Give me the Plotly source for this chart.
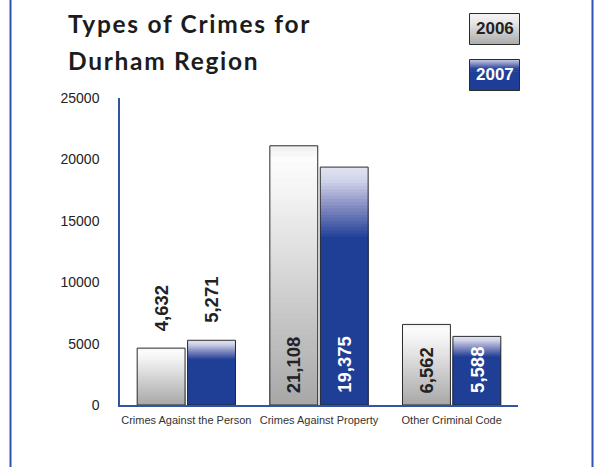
import plotly.graph_objects as go

# ---------------- data ----------------
categories = ["Crimes Against the Person", "Crimes Against Property", "Other Criminal Code"]
years = ["2006", "2007"]
values_2006 = [4632, 21108, 6562]
values_2007 = [5271, 19375, 5588]
label_outside = [True, False, False]
y_ticks = [0, 5000, 10000, 15000, 20000, 25000]
title_lines = ["Types of Crimes for", "Durham Region"]

# ---------------- layout geometry (pixels) ----------------
W, H = 596, 467
L, R, T, B = 120, 518, 98, 405
PW, PH = R - L, B - T


def px(x):
    return (x - L) / PW


def py(y):
    return (B - y) / PH


def hex2rgb(h):
    h = h.lstrip("#")
    return [int(h[i:i + 2], 16) for i in (0, 2, 4)]


def interp(stops, t):
    for (t0, c0), (t1, c1) in zip(stops, stops[1:]):
        if t0 <= t <= t1:
            a = 0 if t1 == t0 else (t - t0) / (t1 - t0)
            r0, r1 = hex2rgb(c0), hex2rgb(c1)
            return "rgb(%d,%d,%d)" % tuple(round(r0[i] + (r1[i] - r0[i]) * a) for i in range(3))
    return stops[-1][1]


gray_stops = [(0, "#efefef"), (0.05, "#fcfcfc"), (0.2, "#f2f2f2"), (1.0, "#a7a7a7")]
blue_stops = [(0, "#e2e4f1"), (0.06, "#cfd3e9"), (0.16, "#8890c3"), (0.3, "#1f3e96"), (1.0, "#1f3e96")]
BLUE = "#1f3e96"
OUTLINE = "#2b2b2b"

fig = go.Figure()


def add_gradient_bars(vals, group, stops, grad_span, n):
    # levels: fraction of the bar height measured from the top
    levels = [grad_span * k / n for k in range(n)]
    for k, t_top in enumerate(levels):
        t_mid = t_top + grad_span / n / 2
        fig.add_trace(go.Bar(
            x=categories, y=[v * (1 - t_top) for v in vals], offsetgroup=group,
            marker=dict(color=interp(stops, t_mid), line=dict(width=0)),
            showlegend=False, hoverinfo="skip"))
    if grad_span < 1:
        fig.add_trace(go.Bar(
            x=categories, y=[v * (1 - grad_span) for v in vals], offsetgroup=group,
            marker=dict(color=interp(stops, 1.0), line=dict(width=0)),
            showlegend=False, hoverinfo="skip"))
    # outline
    fig.add_trace(go.Bar(
        x=categories, y=vals, offsetgroup=group, name=group,
        marker=dict(color="rgba(0,0,0,0)", line=dict(color=OUTLINE, width=1)),
        showlegend=False, hoverinfo="x+y"))


add_gradient_bars(values_2006, years[0], gray_stops, 1.0, 48)
add_gradient_bars(values_2007, years[1], blue_stops, 0.32, 24)

fig.update_layout(
    width=W, height=H, autosize=False,
    margin=dict(l=L, r=W - R, t=T, b=H - B, pad=0),
    paper_bgcolor="white", plot_bgcolor="white",
    barmode="group", bargap=0.24, bargroupgap=0.05,
    showlegend=False,
    font=dict(family="Liberation Sans, Arial, sans-serif", color="#222"),
)
fig.update_xaxes(
    type="category", range=[-0.5, 2.5], showgrid=False, zeroline=False,
    showline=True, linecolor="#3353a6", linewidth=1.5, ticks="",
    tickfont=dict(family="Liberation Sans, Arial, sans-serif", size=11, color="#333"),
    ticklabelstandoff=4,
)
fig.update_yaxes(
    range=[0, 25000], tickvals=y_ticks, ticktext=[str(v) for v in y_ticks],
    showgrid=False, zeroline=False, showline=True, linecolor="#3353a6", linewidth=1.5,
    ticks="", tickfont=dict(family="Liberation Sans, Arial, sans-serif", size=14, color="#222"),
    ticklabelstandoff=16,
)

# value labels
SLOT = (1 - 0.24) * PW / 3 / 2
for si, (vals, year) in enumerate(zip([values_2006, values_2007], years)):
    xs = -SLOT / 2 if si == 0 else SLOT / 2
    for ci, v in enumerate(vals):
        outside = label_outside[ci]
        color = "#222" if (si == 0 or outside) else "white"
        fig.add_annotation(
            x=categories[ci], y=v if outside else 0, xref="x", yref="y",
            text="{:,}".format(v), showarrow=False, textangle=-90,
            xanchor="center", yanchor="bottom", xshift=xs,
            yshift=15 if outside else 10,
            font=dict(family="Liberation Sans, Arial, sans-serif", size=18.5, color=color, weight="bold"),
        )

# title
for i, line in enumerate(title_lines):
    fig.add_annotation(
        x=px(66), y=py(24 + 37 * i), xref="paper", yref="paper",
        text='<span style="letter-spacing:1.7px">' + line + "</span>",
        showarrow=False, xanchor="left", yanchor="middle",
        font=dict(family="Lato, sans-serif", size=24.5, color="#1c1c1c", weight="bold"),
    )

# legend boxes
def legend_box(y0, y1, stops, txt, txtcolor):
    n = 16
    for k in range(n):
        ya = y0 + (y1 - y0) * k / n
        yb = y0 + (y1 - y0) * (k + 1) / n
        fig.add_shape(type="rect", xref="paper", yref="paper",
                      x0=px(469.5), x1=px(519.5), y0=py(ya), y1=py(yb + 0.5),
                      fillcolor=interp(stops, (k + 0.5) / n), line=dict(width=0), layer="above")
    fig.add_shape(type="rect", xref="paper", yref="paper",
                  x0=px(469.5), x1=px(519.5), y0=py(y0), y1=py(y1),
                  fillcolor="rgba(0,0,0,0)", line=dict(color=OUTLINE, width=1), layer="above")
    fig.add_annotation(x=px(494.5), y=py((y0 + y1) / 2), xref="paper", yref="paper",
                       text=txt, showarrow=False, xanchor="center", yanchor="middle",
                       font=dict(family="Liberation Sans, Arial, sans-serif", size=17,
                                 color=txtcolor, weight="bold"))


legend_box(13.5, 44.5, [(0, "#f6f6f6"), (0.3, "#e6e6e6"), (1, "#aaaaaa")], years[0], "#222")
legend_box(59.5, 90.5, [(0, "#c9cde6"), (0.12, "#8d96c8"), (0.3, BLUE), (1, BLUE)], years[1], "white")

# frame lines
for xx in (10.5, 592.5):
    fig.add_shape(type="line", xref="paper", yref="paper",
                  x0=px(xx), x1=px(xx), y0=py(0), y1=py(H),
                  line=dict(color="#2d52b3", width=2), layer="above")

fig.write_html("out.html", config={"displayModeBar": False},
               post_script="document.body.style.margin='0';")
